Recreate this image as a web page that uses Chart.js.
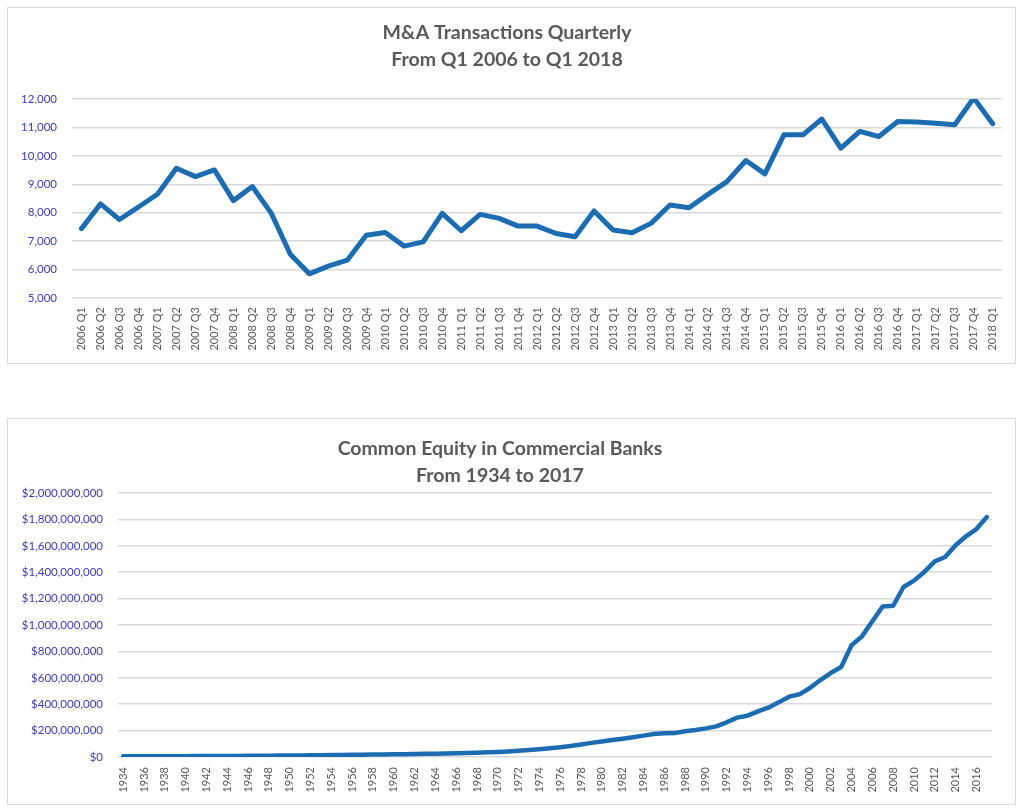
<!DOCTYPE html>
<html>
<head>
<meta charset="utf-8">
<script src="https://cdn.jsdelivr.net/npm/chart.js@4.4.1/dist/chart.umd.min.js"></script>
<style>
  html, body { margin: 0; padding: 0; background: #ffffff; width: 1024px; height: 811px; overflow: hidden; }
  .box { position: absolute; border: 1px solid #d9d9d9; background: #fff; }
  canvas { display: block; }
</style>
</head>
<body>
<div class="box" style="left:7px; top:7px; width:1007px; height:355px;"><canvas id="c1" width="1007" height="355"></canvas></div>
<div class="box" style="left:7px; top:418px; width:1007px; height:385px;"><canvas id="c2" width="1007" height="385"></canvas></div>
<script>
// ---------- Chart 1 data ----------
const maTitle = ['M&A Transactions Quarterly', 'From Q1 2006 to Q1 2018'];
const maQuarters = [
  '2006 Q1','2006 Q2','2006 Q3','2006 Q4',
  '2007 Q1','2007 Q2','2007 Q3','2007 Q4',
  '2008 Q1','2008 Q2','2008 Q3','2008 Q4',
  '2009 Q1','2009 Q2','2009 Q3','2009 Q4',
  '2010 Q1','2010 Q2','2010 Q3','2010 Q4',
  '2011 Q1','2011 Q2','2011 Q3','2011 Q4',
  '2012 Q1','2012 Q2','2012 Q3','2012 Q4',
  '2013 Q1','2013 Q2','2013 Q3','2013 Q4',
  '2014 Q1','2014 Q2','2014 Q3','2014 Q4',
  '2015 Q1','2015 Q2','2015 Q3','2015 Q4',
  '2016 Q1','2016 Q2','2016 Q3','2016 Q4',
  '2017 Q1','2017 Q2','2017 Q3','2017 Q4',
  '2018 Q1'
];
const maTransactions = [
  7440, 8310, 7760, 8200,
  8650, 9565, 9270, 9505,
  8425, 8920, 7975, 6540,
  5850, 6120, 6330, 7210,
  7305, 6825, 6975, 7975,
  7365, 7940, 7800, 7530,
  7530, 7270, 7155, 8060,
  7390, 7295, 7625, 8270,
  8175, 8645, 9095, 9835,
  9365, 10740, 10740, 11295,
  10270, 10860, 10680, 11210,
  11190, 11150, 11095, 12035,
  11130
];
const maYMin = 5000, maYMax = 12000, maYStep = 1000;

// ---------- Chart 2 data ----------
const eqTitle = ['Common Equity in Commercial Banks', 'From 1934 to 2017'];
const eqYears = [
  '1934','1935','1936','1937','1938','1939','1940','1941','1942','1943',
  '1944','1945','1946','1947','1948','1949','1950','1951','1952','1953',
  '1954','1955','1956','1957','1958','1959','1960','1961','1962','1963',
  '1964','1965','1966','1967','1968','1969','1970','1971','1972','1973',
  '1974','1975','1976','1977','1978','1979','1980','1981','1982','1983',
  '1984','1985','1986','1987','1988','1989','1990','1991','1992','1993',
  '1994','1995','1996','1997','1998','1999','2000','2001','2002','2003',
  '2004','2005','2006','2007','2008','2009','2010','2011','2012','2013',
  '2014','2015','2016','2017'
];
const eqTickLabels = [
  '1934','','1936','','1938','','1940','','1942','',
  '1944','','1946','','1948','','1950','','1952','',
  '1954','','1956','','1958','','1960','','1962','',
  '1964','','1966','','1968','','1970','','1972','',
  '1974','','1976','','1978','','1980','','1982','',
  '1984','','1986','','1988','','1990','','1992','',
  '1994','','1996','','1998','','2000','','2002','',
  '2004','','2006','','2008','','2010','','2012','',
  '2014','','2016',''
];
const eqValues = [
  5000000, 5200000, 5500000, 5700000, 5900000, 6100000, 6400000, 6700000, 7000000, 7400000,
  7900000, 8500000, 9100000, 9700000, 10200000, 10800000, 11500000, 12200000, 13000000, 13800000,
  14700000, 15500000, 16300000, 17200000, 18300000, 19200000, 20300000, 21500000, 22500000, 23800000,
  25300000, 27000000, 28700000, 30700000, 33000000, 35500000, 38500000, 42000000, 47000000, 53000000,
  59000000, 66000000, 74000000, 84000000, 95000000, 107000000, 118000000, 128000000, 139000000, 150000000,
  162000000, 174000000, 180000000, 181000000, 195000000, 205000000, 217000000, 232000000, 263000000, 298000000,
  313000000, 346000000, 374000000, 414000000, 457000000, 475000000, 523000000, 583000000, 636000000, 682000000,
  846000000, 914000000, 1028000000, 1141000000, 1146000000, 1288000000, 1336000000, 1402000000, 1482000000, 1515000000,
  1604000000, 1672000000, 1727000000, 1818000000
];
const eqYMin = 0, eqYMax = 2000000000, eqYStep = 200000000;

// ---------- shared styles ----------
const lineColor = '#1c6cb2';
const gridColor = '#d9d9d9';
const titleColor = '#595959';
const yTickColor = '#3c3cb4';
const xTickColor = '#595959';
const tickFont = 'Lato, "Open Sans", sans-serif';

function makeChart(id, cfg) {
  return new Chart(document.getElementById(id), {
    type: 'line',
    data: {
      labels: cfg.labels,
      datasets: [{
        data: cfg.values,
        borderColor: lineColor,
        backgroundColor: lineColor,
        borderWidth: cfg.lineWidth,
        pointRadius: 0,
        pointHoverRadius: 0,
        tension: 0,
        fill: false,
        borderJoinStyle: 'round',
        borderCapStyle: 'round'
      }]
    },
    options: {
      responsive: false,
      animation: false,
      devicePixelRatio: 1,
      layout: { padding: { left: 0, right: cfg.padRight, top: 0, bottom: cfg.padBottom } },
      plugins: {
        legend: { display: false },
        tooltip: { enabled: false },
        title: {
          display: true,
          text: cfg.title,
          color: titleColor,
          font: { family: tickFont, size: 19.5, weight: 'bold', lineHeight: 27 / 19.5 },
          padding: { top: cfg.titleTop, bottom: cfg.titleBottom }
        }
      },
      scales: {
        x: {
          offset: true,
          grid: { display: false, drawTicks: false },
          border: { display: false },
          afterFit: s => { s.height = cfg.xHeight; },
          ticks: {
            autoSkip: false,
            minRotation: 90,
            maxRotation: 90,
            padding: cfg.xPad,
            color: xTickColor,
            font: { family: tickFont, size: 11 },
            callback: function (v, i) { return cfg.tickLabels[i]; }
          }
        },
        y: {
          min: cfg.yMin,
          max: cfg.yMax,
          grid: { color: gridColor, lineWidth: 1.5, drawTicks: false },
          border: { display: false },
          afterFit: s => { s.width = cfg.yWidth; },
          ticks: {
            stepSize: cfg.yStep,
            padding: 15,
            color: yTickColor,
            font: { family: tickFont, size: 11.5 },
            callback: cfg.yFormat
          }
        }
      }
    }
  });
}

makeChart('c1', {
  labels: maQuarters,
  tickLabels: maQuarters,
  values: maTransactions,
  title: maTitle,
  lineWidth: 5,
  padRight: 9,
  padBottom: 5,
  titleTop: 11.5,
  titleBottom: 25.5,
  xHeight: 60,
  xPad: 9,
  yWidth: 64,
  yMin: maYMin, yMax: maYMax, yStep: maYStep,
  yFormat: v => v.toLocaleString('en-US')
});

makeChart('c2', {
  labels: eqYears,
  tickLabels: eqTickLabels,
  values: eqValues,
  title: eqTitle,
  lineWidth: 4.5,
  padRight: 23,
  padBottom: 5,
  titleTop: 16.5,
  titleBottom: 3.5,
  xHeight: 42,
  xPad: 10,
  yWidth: 110,
  yMin: eqYMin, yMax: eqYMax, yStep: eqYStep,
  yFormat: v => '$' + v.toLocaleString('en-US')
});
</script>
</body>
</html>
